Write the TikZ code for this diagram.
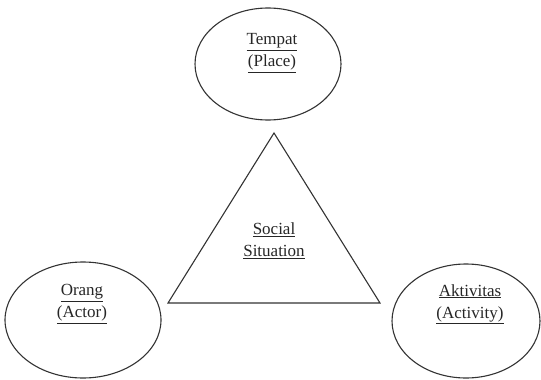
\documentclass[tikz,border=0pt]{standalone}
\usepackage{fontspec}
\setmainfont{Liberation Serif}
\begin{document}
\begin{tikzpicture}[x=1pt,y=-1pt,
  shape line/.style={draw=black!80, line width=1.1pt},
  lbl/.style={font=\fontsize{17}{22}\selectfont, align=center, text=black!85, inner sep=0pt}]
\useasboundingbox (0,0) rectangle (541,380);
% ellipses
\draw[shape line] (268,64) ellipse [x radius=73, y radius=56];
\draw[shape line] (83,320) ellipse [x radius=78, y radius=58];
\draw[shape line] (466,321) ellipse [x radius=74, y radius=57];
% triangle
\coordinate (apex) at (274,133);
\coordinate (bl) at (168,303);
\coordinate (br) at (380,303);
\draw[shape line, line join=miter] (apex) -- (bl) -- (br) -- cycle;
% labels
\node[lbl] (place) at (272,53) {\underline{Tempat}\\\underline{(Place)}};
\node[lbl] (social) at (274,241) {\underline{Social}\\\underline{Situation}};
\node[lbl] (actor) at (82,304) {\underline{Orang}\\\underline{(Actor)}};
\node[lbl] (activity) at (470,304) {\underline{Aktivitas}\\\underline{(Activity)}};
\end{tikzpicture}
\end{document}
